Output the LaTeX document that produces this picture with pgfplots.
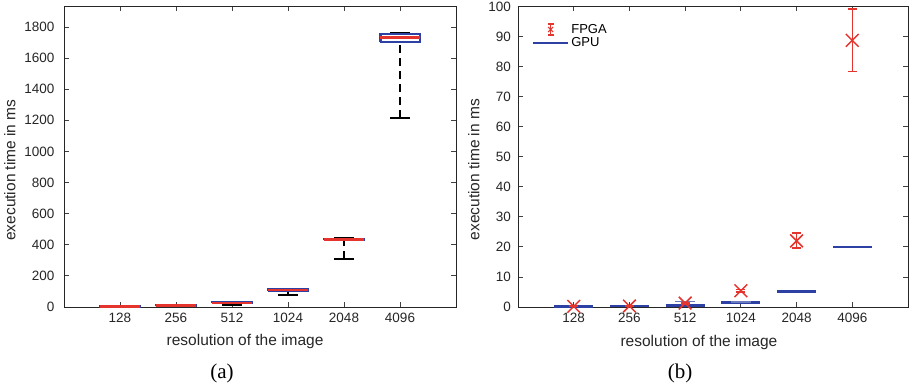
\documentclass[border=0pt]{standalone}
\usepackage{pgfplots}
\pgfplotsset{compat=1.18}
\usepackage{fontspec}
\setmainfont{Liberation Sans}
\newfontfamily\capfont{Liberation Serif}
\definecolor{myred}{RGB}{228,52,45}
\definecolor{myblue}{RGB}{45,65,165}
\pgfplotsset{
  myaxis/.style={
    scale only axis,
    anchor=south west,
    xmin=0, xmax=7,
    xtick={1,2,3,4,5,6},
    xticklabels={128,256,512,1024,2048,4096},
    tick align=inside,
    major tick length=5pt,
    axis line style={black!85, line width=0.8pt},
    tick style={black!75, line width=0.8pt},
    /pgf/number format/assume math mode=true,
    /pgf/number format/1000 sep={},
    tick label style={font=\fontsize{13.5}{15}\selectfont, text=black!85},
    xticklabel style={yshift=-3pt},
    scaled y ticks=false,
    unbounded coords=jump,
  },
}
\begin{document}
\begin{tikzpicture}
\useasboundingbox (0pt,0pt) rectangle (910pt,-389pt);
% ---------------- (a)
\begin{axis}[myaxis,
  at={(64pt,-307pt)}, width=392pt, height=301pt,
  ymin=0, ymax=1935, ytick={0,200,...,1800},
  yticklabel style={xshift=-6pt},
  xlabel={resolution of the image},
  ylabel={execution time in ms},
  every axis x label/.style={at={(axis description cs:0.462,-0.116)}, anchor=center,
    font=\fontsize{15.5}{17}\selectfont, text=black!85},
  every axis y label/.style={at={(axis description cs:-0.138,0.455)}, rotate=90, anchor=center,
    font=\fontsize{15.5}{17}\selectfont, text=black!85},
]
% whiskers (from whisker end to box edge), dashed
\addplot[black, line width=2pt, dash pattern=on 8pt off 5pt] coordinates {
  (1,1.5) (1,2) (nan,nan) (1,3.5) (1,3) (nan,nan)
  (2,7) (2,8) (nan,nan) (2,11) (2,10) (nan,nan)
  (3,14) (3,25) (nan,nan) (3,30) (3,29) (nan,nan)
  (4,78) (4,106) (nan,nan) (4,115) (4,113) (nan,nan)
  (5,307) (5,430) (nan,nan) (5,441) (5,439) (nan,nan)
  (6,1215) (6,1703) (nan,nan) (6,1759) (6,1753)
};
% whisker caps
\addplot[black, line width=2pt] coordinates {
  (0.825,1.5) (1.175,1.5) (nan,nan) (0.825,3.5) (1.175,3.5) (nan,nan)
  (1.825,7) (2.175,7) (nan,nan) (1.825,11) (2.175,11) (nan,nan)
  (2.825,14) (3.175,14) (nan,nan) (2.825,30) (3.175,30) (nan,nan)
  (3.825,78) (4.175,78) (nan,nan) (3.825,115) (4.175,115) (nan,nan)
  (4.825,307) (5.175,307) (nan,nan) (4.825,441) (5.175,441) (nan,nan)
  (5.825,1215) (6.175,1215) (nan,nan) (5.825,1759) (6.175,1759)
};
% boxes (lower to upper quartile)
\addplot[draw=myblue, fill=white, line width=2.2pt] coordinates {
  (0.65,2) (1.35,2) (1.35,3) (0.65,3) (0.65,2) (nan,nan)
  (1.65,8) (2.35,8) (2.35,10) (1.65,10) (1.65,8) (nan,nan)
  (2.65,25) (3.35,25) (3.35,29) (2.65,29) (2.65,25) (nan,nan)
  (3.65,106) (4.35,106) (4.35,113) (3.65,113) (3.65,106) (nan,nan)
  (4.65,430) (5.35,430) (5.35,439) (4.65,439) (4.65,430) (nan,nan)
  (5.65,1703) (6.35,1703) (6.35,1753) (5.65,1753) (5.65,1703)
};
% medians
\addplot[myred, line width=2.5pt] coordinates {
  (0.65,2.5) (1.35,2.5) (nan,nan)
  (1.65,9) (2.35,9) (nan,nan)
  (2.65,27) (3.35,27) (nan,nan)
  (3.65,110) (4.35,110) (nan,nan)
  (4.65,434) (5.35,434) (nan,nan)
  (5.65,1731) (6.35,1731)
};
\end{axis}
\node[font=\capfont\fontsize{21}{24}\selectfont] at (222pt,-373pt) {(a)};
% ---------------- (b)
\begin{axis}[myaxis,
  at={(518pt,-307pt)}, width=390pt, height=300.6pt,
  ymin=0, ymax=100, ytick={0,10,...,100},
  yticklabel style={xshift=-3.5pt},
  xlabel={resolution of the image},
  ylabel={execution time in ms},
  every axis x label/.style={at={(axis description cs:0.464,-0.117)}, anchor=center,
    font=\fontsize{15.5}{17}\selectfont, text=black!85},
  every axis y label/.style={at={(axis description cs:-0.113,0.457)}, rotate=90, anchor=center,
    font=\fontsize{15.5}{17}\selectfont, text=black!85},
  legend style={at={(axis description cs:0.035,0.948)}, anchor=north west, draw=none, fill=none,
    font=\fontsize{13}{14}\selectfont, row sep=-1pt, inner sep=0pt},
  legend cell align=left,
]
\addlegendimage{legend image code/.code={
  \draw[myred, line width=1.1pt] (0pt,-5.5pt) -- (0pt,5.5pt);
  \draw[myred, line width=1.1pt] (-3pt,-5.5pt) -- (3pt,-5.5pt);
  \draw[myred, line width=1.1pt] (-3pt,5.5pt) -- (3pt,5.5pt);
  \draw[myred, line width=1.1pt] (-2.5pt,-2.5pt) -- (2.5pt,2.5pt) (-2.5pt,2.5pt) -- (2.5pt,-2.5pt);
}}
\addlegendentry{FPGA}
\addlegendimage{legend image code/.code={
  \draw[myblue, line width=2.5pt] (-17.5pt,0pt) -- (17.5pt,0pt);
}}
\addlegendentry{GPU}
% GPU (very narrow boxes drawn as lines)
\addplot[myblue, line width=2.6pt, forget plot] coordinates {
  (0.65,0.25) (1.35,0.25) (nan,nan)
  (1.65,0.35) (2.35,0.35) (nan,nan)
  (2.65,0.6) (3.35,0.6) (nan,nan)
  (3.65,1.5) (4.35,1.5) (nan,nan)
  (4.65,5.2) (5.35,5.2) (nan,nan)
  (5.65,20.0) (6.35,20.0)
};
\addplot[myblue!70, line width=1.6pt, forget plot] coordinates {
  (2.825,1.8) (3.175,1.8) (nan,nan)
  (3.825,1.7) (4.175,1.7)
};
% FPGA
\addplot[myred, only marks, mark=x, mark size=9pt, mark options={line width=1.5pt}, forget plot,
  error bars/.cd, y dir=both, y explicit,
  error mark=-,
  error bar style={myred, line width=1.3pt},
  error mark options={rotate=90, myred, mark size=4.5pt, line width=1.3pt}]
coordinates {
  (1,0.2) +- (0,0.1)
  (2,0.3) +- (0,0.1)
  (3,1.3) +- (0,0.3)
  (4,5.4) +- (0,0.4)
  (5,22.0) += (0,2.6) -= (0,2.4)
  (6,88.7) += (0,10.4) -= (0,10.3)
};
\end{axis}
\node[font=\capfont\fontsize{21}{24}\selectfont] at (680pt,-373pt) {(b)};
\end{tikzpicture}
\end{document}
